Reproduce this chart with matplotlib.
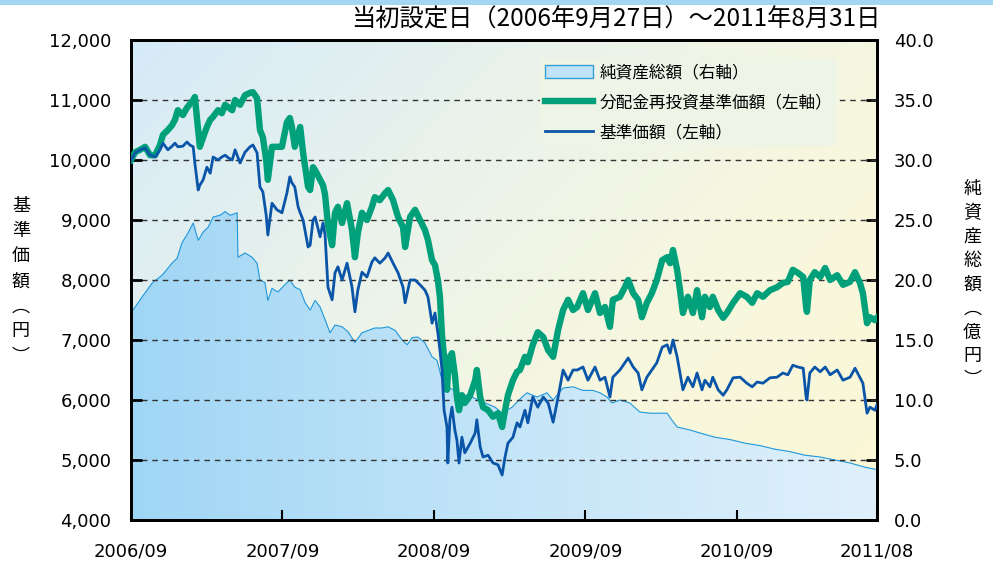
import numpy as np
import pandas as pd
import matplotlib
matplotlib.use("Agg")
import matplotlib.pyplot as plt
import matplotlib.dates as mdates
from matplotlib.patches import Patch, Rectangle
from matplotlib.lines import Line2D
from matplotlib.colors import LinearSegmentedColormap

plt.rcParams['font.family'] = ['DejaVu Sans', 'Noto Sans CJK JP']
CJK = ['Noto Sans CJK JP', 'DejaVu Sans']

# ---- data ----
launch = pd.Timestamp('2006-09-27')
end = pd.Timestamp('2011-08-31')

# days since launch for the two price lines
line_days = [0, 10, 22, 34, 46, 58, 70, 77, 89, 99, 106, 113, 125, 135, 142, 150, 154, 162, 166, 174,
             183, 191, 198, 210, 219, 227, 236, 244, 251, 263, 275, 287, 294, 304, 311, 318, 326, 330, 340, 352,
             364, 376, 383, 388, 395, 403, 408, 415, 427, 432, 439, 444, 456, 463, 468, 475, 485, 492, 499, 509,
             521, 533, 540, 547, 557, 569, 581, 588, 600, 613, 620, 632, 644, 656, 661, 673, 685, 697, 709, 716,
             726, 733, 740, 745, 750, 755, 762, 764, 769, 774, 781, 786, 791, 798, 805, 818, 830, 834, 842, 849,
             861, 873, 885, 895, 902, 909, 921, 931, 938, 950, 957, 969, 981, 994, 1006, 1018, 1030, 1042, 1054, 1066,
             1076, 1090, 1102, 1119, 1131, 1143, 1155, 1162, 1179, 1191, 1199, 1211, 1223, 1232, 1244, 1256, 1268, 1281, 1293, 1300,
             1307, 1317, 1324, 1331, 1343, 1355, 1365, 1377, 1384, 1396, 1403, 1416, 1428, 1437, 1452, 1469, 1485, 1498, 1510, 1524,
             1541, 1558, 1572, 1584, 1596, 1608, 1621, 1628, 1630, 1637, 1649, 1662, 1674, 1686, 1703, 1717, 1734, 1746, 1758, 1765,
             1775, 1782, 1794, 1799]

# 基準価額 (yen)
nav = [10000, 10120, 10170, 10200, 10080, 10050, 10170, 10280, 10170, 10230, 10280, 10220, 10230, 10300, 10250, 10220, 9950, 9500, 9580, 9670,
       9880, 9780, 10050, 10000, 10050, 10080, 10030, 10000, 10170, 9950, 10130, 10220, 10250, 10120, 9550, 9470, 9080, 8750, 9280, 9170,
       9120, 9450, 9720, 9620, 9550, 9220, 9120, 9000, 8550, 8580, 9000, 9050, 8720, 8950, 8750, 7880, 7670, 8120, 8220, 8000,
       8280, 7880, 7470, 7830, 8130, 8050, 8300, 8370, 8280, 8370, 8450, 8280, 8120, 7880, 7620, 8000, 8000, 7920, 7830, 7720,
       7280, 7450, 7120, 6830, 6500, 5830, 5550, 4950, 5670, 5880, 5500, 5330, 4950, 5380, 5120, 5280, 5450, 5670, 5220, 5050,
       5080, 4950, 4920, 4750, 5050, 5280, 5380, 5620, 5550, 5830, 5620, 6050, 5880, 6050, 5950, 5630, 6050, 6500, 6330, 6500,
       6500, 6550, 6330, 6550, 6330, 6380, 6050, 6380, 6500, 6620, 6700, 6550, 6450, 6170, 6380, 6500, 6620, 6880, 6920, 6780,
       7000, 6720, 6450, 6170, 6380, 6220, 6450, 6170, 6330, 6220, 6380, 6170, 6080, 6170, 6370, 6380, 6280, 6220, 6300, 6280,
       6370, 6380, 6450, 6420, 6580, 6550, 6530, 6050, 6000, 6450, 6550, 6470, 6550, 6420, 6500, 6330, 6380, 6530, 6370, 6280,
       5780, 5880, 5830, 5920]

# 分配金再投資基準価額 (yen)
nav_reinvest = [10000, 10130, 10170, 10220, 10080, 10080, 10250, 10420, 10500, 10580, 10670, 10830, 10750, 10870, 10930, 11000, 11050, 10500, 10220, 10380,
                10550, 10670, 10720, 10830, 10780, 10920, 10870, 10830, 11000, 10920, 11080, 11120, 11130, 11030, 10500, 10380, 10000, 9670, 10220, 10220,
                10220, 10630, 10700, 10550, 10220, 10420, 10550, 10120, 9550, 9500, 9880, 9830, 9670, 9580, 9420, 8920, 8580, 9120, 9220, 8950,
                9280, 8830, 8380, 8780, 9120, 9000, 9220, 9380, 9330, 9450, 9500, 9330, 9050, 8880, 8550, 9050, 9170, 9000, 8830, 8670,
                8330, 8250, 8000, 7720, 7080, 6720, 6170, 6420, 6720, 6780, 6420, 6050, 5830, 6080, 5950, 6080, 6330, 6500, 6050, 5880,
                5830, 5720, 5780, 5550, 5830, 6080, 6330, 6470, 6500, 6720, 6630, 6920, 7130, 7050, 6830, 6720, 7170, 7500, 7670, 7500,
                7550, 7780, 7500, 7780, 7450, 7550, 7220, 7670, 7720, 7880, 8000, 7780, 7670, 7380, 7620, 7780, 8000, 8330, 8380, 8280,
                8500, 8170, 7830, 7450, 7720, 7450, 7830, 7380, 7720, 7550, 7720, 7500, 7370, 7450, 7620, 7780, 7720, 7620, 7780, 7720,
                7830, 7880, 7950, 7970, 8170, 8120, 8050, 7550, 7470, 8000, 8130, 8050, 8200, 8000, 8080, 7920, 7970, 8130, 7950, 7780,
                7280, 7380, 7330, 7370]

# days since launch for net assets
asset_days = [0, 5, 27, 51, 75, 99, 111, 123, 137, 150, 162, 174, 186, 198, 215, 227, 239, 256, 258, 275,
              292, 304, 311, 323, 330, 340, 354, 371, 383, 395, 408, 420, 432, 444, 456, 468, 480, 492, 509, 523,
              540, 557, 572, 588, 605, 620, 637, 654, 666, 678, 692, 709, 726, 738, 750, 764, 789, 822, 854, 878,
              895, 919, 943, 955, 979, 1003, 1018, 1042, 1066, 1090, 1114, 1131, 1148, 1160, 1179, 1203, 1227, 1252, 1276, 1293,
              1305, 1317, 1348, 1372, 1408, 1445, 1481, 1517, 1553, 1589, 1625, 1662, 1698, 1734, 1770, 1799]

# 純資産総額 (100 million yen)
net_assets = [17.3, 17.5, 18.6, 19.75, 20.4, 21.4, 21.8, 23.1, 23.9, 24.75, 23.3, 24.0, 24.4, 25.25, 25.4, 25.7, 25.4, 25.6, 21.9, 22.25,
              21.9, 21.4, 20.0, 19.8, 18.3, 19.3, 19.0, 19.6, 20.0, 19.4, 19.2, 18.1, 17.5, 18.3, 17.75, 16.7, 15.6, 16.25, 16.1, 15.7,
              14.8, 15.6, 15.8, 16.0, 16.0, 16.1, 15.8, 15.0, 14.6, 15.2, 15.25, 14.75, 13.6, 13.3, 11.7, 11.1, 10.6, 10.25, 9.75, 9.4,
              8.9, 9.4, 10.25, 10.6, 10.25, 10.6, 10.0, 11.0, 11.1, 10.8, 10.8, 10.6, 10.25, 9.75, 10.0, 9.75, 9.0, 8.9, 8.9, 8.9,
              8.3, 7.75, 7.5, 7.25, 6.9, 6.7, 6.4, 6.2, 5.9, 5.7, 5.4, 5.25, 5.0, 4.75, 4.4, 4.2]

left_ticks = [4000, 5000, 6000, 7000, 8000, 9000, 10000, 11000, 12000]
right_ticks = [0, 5, 10, 15, 20, 25, 30, 35, 40]
x_tick_dates = ['2006-09-27', '2007-09-27', '2008-09-27', '2009-09-27', '2010-09-27', '2011-08-31']
x_tick_labels = ['2006/09', '2007/09', '2008/09', '2009/09', '2010/09', '2011/08']

title = '当初設定日（2006年9月27日）～2011年8月31日'
left_label = ['基', '準', '価', '額', '︵', '円', '︶']
right_label = ['純', '資', '産', '総', '額', '︵', '億', '円', '︶']
legend_labels = ['純資産総額（右軸）', '分配金再投資基準価額（左軸）', '基準価額（左軸）']

line_dates = launch + pd.to_timedelta(line_days, unit='D')
asset_dates = launch + pd.to_timedelta(asset_days, unit='D')

# ---- figure ----
fig = plt.figure(figsize=(9.93, 5.65), dpi=100)
rect = [131 / 993, 45 / 565, 746 / 993, 480 / 565]

# background gradient (light blue top-left -> light yellow bottom-right)
bg = fig.add_axes(rect, zorder=0)
gx = np.linspace(0, 1, 400)[None, :]
gy = np.linspace(0, 1, 200)[:, None]
grad = 0.62 * gx + 0.38 * gy
bg_cmap = LinearSegmentedColormap.from_list('bg', ['#d5eaf8', '#e9f2ec', '#f7f7df', '#fcf8d6'])
bg.imshow(grad, cmap=bg_cmap, extent=(0, 1, 0, 1), aspect='auto', interpolation='bilinear')
bg.set_xlim(0, 1)
bg.set_ylim(0, 1)
bg.axis('off')

# net assets area on right scale
ax = fig.add_axes(rect, zorder=1)
ax.patch.set_visible(False)
poly = ax.fill_between(asset_dates, net_assets, 0, facecolor='none', edgecolor='none')
area_cmap = LinearSegmentedColormap.from_list('area', ['#a0d6f5', '#c4e5f8', '#e0f0fb'])
x0, x1 = mdates.date2num(launch), mdates.date2num(end)
im = ax.imshow(np.linspace(0, 1, 300)[None, :], cmap=area_cmap, extent=(x0, x1, 0, 40),
               aspect='auto', interpolation='bilinear', zorder=1)
im.set_clip_path(poly.get_paths()[0], transform=ax.transData)
ax.plot(asset_dates, net_assets, color='#1f98da', lw=0.8, zorder=2)
ax.set_xlim(launch, end)
ax.set_ylim(0, 40)

# price lines on left scale
ax2 = ax.twinx()
ax2.set_ylim(4000, 12000)
for v in left_ticks[1:-1]:
    ax2.axhline(v, color='#333333', lw=1.0, ls=(0, (4, 3.5)), zorder=1)
ax2.plot(line_dates, nav_reinvest, color='#00a07a', lw=4.6, zorder=3, solid_joinstyle='round')
ax2.plot(line_dates, nav, color='#0a55a8', lw=2.0, zorder=4, solid_joinstyle='round')

# axes styling
ax2.yaxis.tick_left()
ax2.yaxis.set_label_position('left')
ax.yaxis.tick_right()
ax2.set_yticks(left_ticks)
ax2.set_yticklabels([f'{v:,}' for v in left_ticks])
ax.set_yticks(right_ticks)
ax.set_yticklabels([f'{v:.1f}' for v in right_ticks])
ax.set_xticks(pd.to_datetime(x_tick_dates))
ax.set_xticklabels(x_tick_labels)
ax2.tick_params(axis='y', direction='in', length=8, width=2, pad=14, labelsize=13)
ax.tick_params(axis='y', direction='in', length=8, width=2, pad=12, labelsize=13)
ax.tick_params(axis='x', direction='in', length=7, width=1.5, pad=16, labelsize=13)
for a in (ax, ax2):
    for s in a.spines.values():
        s.set_linewidth(2)
        s.set_color('black')

# legend
handles = [Patch(facecolor='#bfe3f7', edgecolor='#3aa0da', lw=1),
           Line2D([], [], color='#00a07a', lw=4.6),
           Line2D([], [], color='#0a55a8', lw=2.0)]
leg = ax2.legend(handles, legend_labels, loc='upper left', bbox_to_anchor=(0.535, 0.91),
                 bbox_transform=fig.transFigure, frameon=True, fancybox=False,
                 facecolor='#eef4e6', edgecolor='none', framealpha=1,
                 prop={'family': CJK, 'size': 12}, handlelength=2.9, handleheight=0.9,
                 handletextpad=0.4, labelspacing=0.78, borderpad=0.3)
leg.set_zorder(5)

# titles and axis labels
fig.text(0.887, 0.966, title, ha='right', va='center', fontsize=17.5, family=CJK)
fig.text(0.021, 0.502, '\n'.join(left_label), ha='center', va='center', fontsize=13,
         family=CJK, linespacing=1.5)
fig.text(0.979, 0.496, '\n'.join(right_label), ha='center', va='center', fontsize=13,
         family=CJK, linespacing=1.42)

# light blue strip at the very top
fig.patches.append(Rectangle((0, 1 - 5 / 565), 1, 5 / 565, transform=fig.transFigure,
                             facecolor='#a4d6f1', edgecolor='none'))

fig.savefig('out.png', dpi=100)
